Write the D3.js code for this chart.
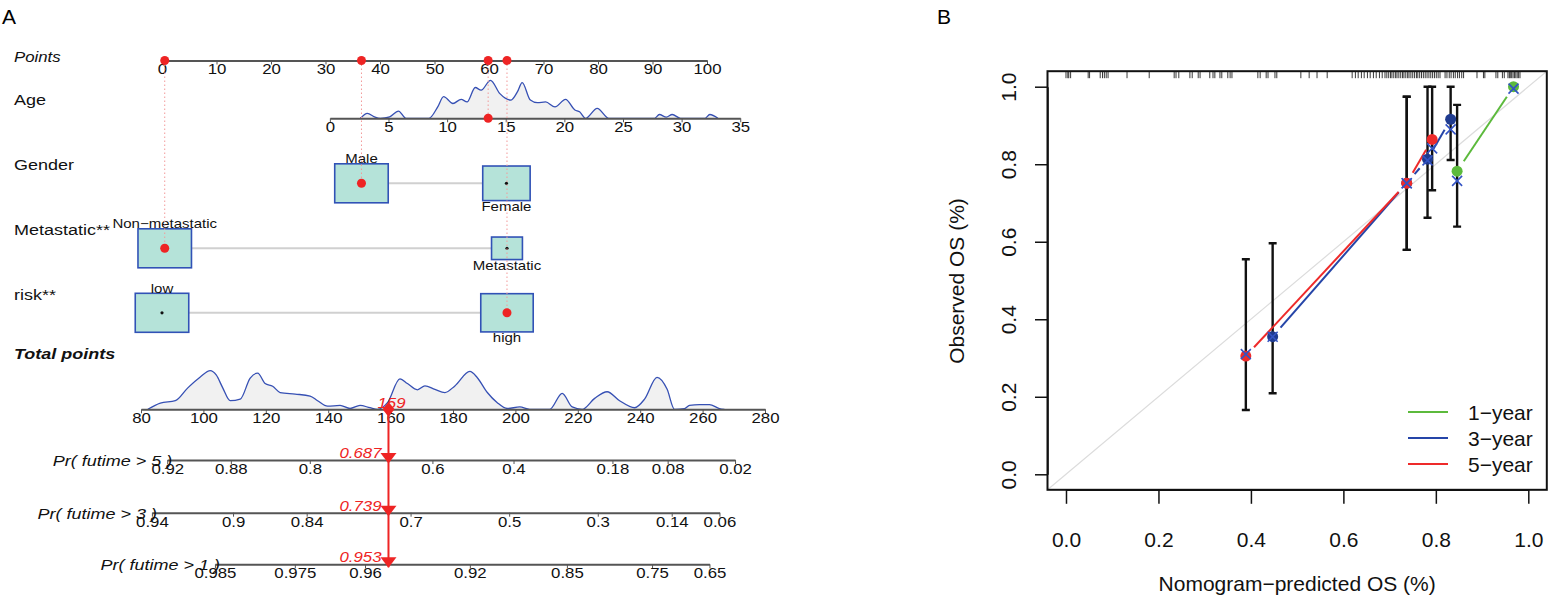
<!DOCTYPE html>
<html>
<head>
<meta charset="utf-8">
<script src="https://cdn.jsdelivr.net/npm/d3@7"></script>
<style>
  body { margin: 0; background: #fff; }
  svg { display: block; }
</style>
</head>
<body>
<div id="fig"></div>
<script>
// ---------- panel A : nomogram ----------
const pointTicks = [0, 10, 20, 30, 40, 50, 60, 70, 80, 90, 100];
const ageTicks = [0, 5, 10, 15, 20, 25, 30, 35];
const agePointRange = [30.8, 106.1];          // points for age 0 and age 35
const ageGrid = [2.6, 3.2, 3.8, 4.3, 5.1, 5.85, 6.5, 8.45, 9.2, 9.7, 10.5, 11.2, 11.7, 12.4, 12.9,
  13.7, 14.5, 15.45, 16.0, 16.4, 17.1, 17.7, 18.4, 19.2, 20.1, 20.9, 21.3, 21.8, 22.8, 23.8,
  27.7, 28.1, 28.7, 29.2, 29.9, 32.0, 32.4, 33.1];
const ageDens = [0, 0.13, 0.04, 0, 0.04, 0.19, 0, 0, 0.30, 0.57, 0.39, 0.50, 0.43, 0.81, 0.74,
  1.0, 0.65, 0.48, 0.70, 0.94, 0.48, 0.41, 0.43, 0.30, 0.50, 0.22, 0.17, 0, 0.26, 0,
  0, 0.10, 0.03, 0.10, 0, 0, 0.10, 0];

const factorLabels = ["Gender", "Metastatic**", "risk**"];
const genderLevels = ["Male", "Female"];
const genderPoints = [36.6, 63.2];
const genderShare = [0.56, 0.44];
const metastaticLevels = ["Non\u2212metastatic", "Metastatic"];
const metastaticPoints = [0.5, 63.3];
const metastaticShare = [0.75, 0.25];
const riskLevels = ["low", "high"];
const riskPoints = [0, 63.3];
const riskShare = [0.51, 0.49];

const patientAge = 13.5;
const patientLevel = ["Male", "Non\u2212metastatic", "high"];
const patientTotal = 159;

const totalTicks = [80, 100, 120, 140, 160, 180, 200, 220, 240, 260, 280];
const totalGrid = [82.2, 86.2, 91.0, 95.0, 99.0, 102.2, 104.1, 106.2, 108.6, 111.8, 115.0, 117.4,
  119.8, 122.2, 124.6, 129.4, 134.2, 136.6, 139.8, 143.8, 147.0, 150.2, 153.4, 155.8, 159.0,
  163.0, 165.4, 168.6, 171.0, 174.2, 177.4, 180.6, 185.4, 187.8, 191.0, 194.2, 197.4, 201.4,
  204.6, 211.0, 215.0, 218.2, 221.4, 225.4, 229.4, 233.4, 238.2, 241.4, 245.4, 248.6, 251.0,
  254.2, 255.8, 259.0, 262.2, 265.4, 267.0];
const totalDens = [0, 0.16, 0.22, 0.55, 0.83, 0.99, 0.88, 0.55, 0.22, 0.26, 0.80, 0.93,
  0.66, 0.59, 0.43, 0.39, 0.34, 0.22, 0.08, 0.10, 0.02, 0.10, 0.04, 0, 0.17,
  0.78, 0.66, 0.50, 0.60, 0.51, 0.43, 0.60, 0.97, 0.81, 0.43, 0.17, 0.02, 0.06,
  0, 0, 0.41, 0.06, 0, 0.28, 0.45, 0.22, 0.04, 0.26, 0.82, 0.52, 0,
  0.02, 0.10, 0.12, 0.12, 0.02, 0];

const survivalLabels = ["Pr( futime > 5 )", "Pr( futime > 3 )", "Pr( futime > 1 )"];
const surv5Labels = ["0.92", "0.88", "0.8", "0.6", "0.4", "0.18", "0.08", "0.02"];
const surv5Totals = [88.4, 108.8, 134.1, 173.4, 199.4, 231.1, 248.8, 270.4];
const surv3Labels = ["0.94", "0.9", "0.84", "0.7", "0.5", "0.3", "0.14", "0.06"];
const surv3Totals = [83.5, 109.5, 133.1, 166.4, 198.0, 226.4, 250.1, 265.4];
const surv1Labels = ["0.985", "0.975", "0.96", "0.92", "0.85", "0.75", "0.65"];
const surv1Totals = [103.7, 129.3, 151.8, 185.4, 216.5, 243.8, 262.2];
const survPredicted = ["0.687", "0.739", "0.953"];

// ---------- panel B : calibration ----------
const calYears = ["1\u2212year", "3\u2212year", "5\u2212year"];
const pred1 = [0.846, 0.968], obs1 = [0.782, 1.0], lo1 = [0.639, 1.0], hi1 = [0.953, 1.0], corr1 = [0.757, 0.995];
const pred3 = [0.447, 0.737, 0.782, 0.832], obs3 = [0.355, 0.751, 0.813, 0.916];
const lo3 = [0.209, 0.579, 0.662, 0.811], hi3 = [0.596, 0.974, 1.0, 1.0], corr3 = [0.355, 0.751, 0.810, 0.890];
const pred5 = [0.389, 0.737, 0.792], obs5 = [0.305, 0.751, 0.864];
const lo5 = [0.166, 0.579, 0.733], hi5 = [0.555, 0.974, 1.0], corr5 = [0.310, 0.751, 0.841];
const calTicks = [0, 0.2, 0.4, 0.6, 0.8, 1.0];
const rugPred = [0.000, 0.004, 0.006, 0.010, 0.048, 0.051, 0.074, 0.079, 0.083, 0.087, 0.091, 0.132,
  0.180, 0.234, 0.238, 0.244, 0.268, 0.273, 0.286, 0.290, 0.311, 0.318, 0.322, 0.333, 0.337, 0.350,
  0.355, 0.359, 0.415, 0.420, 0.433, 0.437, 0.452, 0.456, 0.508, 0.526, 0.543, 0.565, 0.619, 0.626,
  0.632, 0.639, 0.645, 0.652, 0.658, 0.665, 0.671, 0.678, 0.684, 0.690, 0.694, 0.698, 0.702, 0.705,
  0.709, 0.713, 0.716, 0.720, 0.724, 0.728, 0.731, 0.735, 0.739, 0.742, 0.746, 0.750, 0.754, 0.758,
  0.761, 0.765, 0.769, 0.773, 0.777, 0.781, 0.785, 0.789, 0.793, 0.797, 0.801, 0.805, 0.809, 0.820,
  0.824, 0.829, 0.833, 0.838, 0.842, 0.847, 0.851, 0.856, 0.860, 0.889, 0.903, 0.906, 0.930, 0.934,
  0.944, 0.948, 0.956, 0.959, 0.961, 0.964, 0.967, 0.970, 0.973, 0.976, 0.979, 0.982];

const RED = "#ee2424";

const svg = d3.select("#fig").append("svg")
  .attr("width", 1549).attr("height", 597)
  .attr("font-family", "'Liberation Sans', Arial, Helvetica, sans-serif");

svg.append("text").attr("x", 2).attr("y", 24).attr("font-size", 21).text("A");
svg.append("text").attr("x", 937).attr("y", 24).attr("font-size", 21).text("B");

// text in panel A is a bit wider than normal
const SX = 1.2;
function txt(g, x, y, s, o = {}) {
  return g.append("text")
    .attr("transform", `translate(${x},${y}) scale(${SX},1)`)
    .attr("text-anchor", o.anchor || "start")
    .attr("font-size", o.size || 15)
    .attr("font-style", o.italic ? "italic" : null)
    .attr("font-weight", o.bold ? "bold" : null)
    .attr("fill", o.color || "#111")
    .text(s);
}

const A = svg.append("g");
const xPts = d3.scaleLinear().domain([0, 100]).range([162, 707]);
const ageToPts = d3.scaleLinear().domain([0, 35]).range(agePointRange);
const xAge = d3.scaleLinear().domain([0, 35]).range(agePointRange.map(xPts));
const xTot = d3.scaleLinear().domain([80, 280]).range([141, 765]);

const rowY = { points: 60.5, age: 118.3, factors: [183.3, 248.3, 312.8], total: 409.3, surv: [460, 512.7, 564.3] };

function nomoAxis(scale, y, values, labels) {
  const ax = d3.axisBottom(scale).tickValues(values).tickSize(4).tickSizeOuter(0).tickPadding(0)
    .tickFormat((d, i) => labels ? labels[i] : d);
  const g = A.append("g").attr("transform", `translate(0,${y})`).call(ax)
    .attr("font-size", 14).attr("font-family", null);
  g.select(".domain").attr("stroke", "#555").attr("stroke-width", 2);
  g.selectAll(".tick line").attr("stroke", "#555");
  g.selectAll(".tick text").attr("fill", "#111").attr("transform", `scale(${SX},1)`);
  return g;
}

// row labels
txt(A, 14, 62, "Points", { italic: true, size: 14 });
txt(A, 14, 105, "Age");
factorLabels.forEach((f, k) => txt(A, 14, rowY.factors[k] - 13, f));
txt(A, 14, 358.5, "Total points", { italic: true, bold: true });

// axes
nomoAxis(xPts, rowY.points, pointTicks);

const dens = (grid, vals, xs, base, hgt) => d3.area()
  .x((d, i) => xs(grid[i])).y0(base).y1((d, i) => base - vals[i] * hgt)
  .curve(d3.curveMonotoneX)(vals);
const densLine = (grid, vals, xs, base, hgt) => d3.line()
  .x((d, i) => xs(grid[i])).y((d, i) => base - vals[i] * hgt)
  .curve(d3.curveMonotoneX)(vals);

A.append("path").attr("d", dens(ageGrid, ageDens, xAge, rowY.age, 38)).attr("fill", "#f1f1f1");
A.append("path").attr("d", densLine(ageGrid, ageDens, xAge, rowY.age, 38))
  .attr("fill", "none").attr("stroke", "#3650b4").attr("stroke-width", 1.3);
nomoAxis(xAge, rowY.age, ageTicks);

// factor rows with boxes
const factors = [
  { levels: genderLevels, pts: genderPoints, share: genderShare },
  { levels: metastaticLevels, pts: metastaticPoints, share: metastaticShare },
  { levels: riskLevels, pts: riskPoints, share: riskShare }
];
const selected = [{ pts: ageToPts(patientAge), y: rowY.age }];
factors.forEach((f, k) => {
  const y = rowY.factors[k];
  const side = d3.scaleSqrt().domain([0, d3.max(f.share)]).range([0, 1]);
  const cx = f.pts.map(xPts);
  A.append("line").attr("x1", cx[0]).attr("x2", cx[1]).attr("y1", y).attr("y2", y)
    .attr("stroke", "#d0d0d0").attr("stroke-width", 2);
  f.levels.forEach((lv, i) => {
    const s = side(f.share[i]), w = 53.5 * s, h = 39 * s;
    A.append("rect").attr("x", cx[i] - w / 2).attr("y", y - h / 2).attr("width", w).attr("height", h)
      .attr("fill", "#b5e3d9").attr("stroke", "#3152b6").attr("stroke-width", 1.6);
    const ly = i === 0 ? y - h / 2 - 0.5 : y + h / 2 + 10.5;
    txt(A, cx[i], ly, lv, { anchor: "middle", size: 12.5 });
    if (patientLevel.includes(lv)) selected.push({ pts: f.pts[i], y });
    else A.append("circle").attr("cx", cx[i]).attr("cy", y).attr("r", 1.6).attr("fill", "#111");
  });
});

// total points
A.append("path").attr("d", dens(totalGrid, totalDens, xTot, rowY.total, 39)).attr("fill", "#f1f1f1");
A.append("path").attr("d", densLine(totalGrid, totalDens, xTot, rowY.total, 39))
  .attr("fill", "none").attr("stroke", "#3650b4").attr("stroke-width", 1.3);
nomoAxis(xTot, rowY.total, totalTicks);

// survival probability rows
[[surv5Labels, surv5Totals], [surv3Labels, surv3Totals], [surv1Labels, surv1Totals]].forEach(([lab, tot], k) => {
  const y = rowY.surv[k];
  const sc = d3.scaleLinear().domain([tot[0], tot[tot.length - 1]])
    .range([xTot(tot[0]), xTot(tot[tot.length - 1])]);
  nomoAxis(sc, y, tot, lab);
  txt(A, xTot(tot[0]) + 5, y + 6, survivalLabels[k], { anchor: "end", italic: true });
});

// red dotted guides and patient points
selected.forEach(s => {
  A.append("line").attr("x1", xPts(s.pts)).attr("x2", xPts(s.pts))
    .attr("y1", rowY.points).attr("y2", s.y)
    .attr("stroke", "#f29a9a").attr("stroke-width", 1).attr("stroke-dasharray", "1.5,2.5");
});
selected.forEach(s => {
  A.append("circle").attr("cx", xPts(s.pts)).attr("cy", rowY.points).attr("r", 4.5).attr("fill", RED);
  A.append("circle").attr("cx", xPts(s.pts)).attr("cy", s.y).attr("r", 4.5).attr("fill", RED);
});

// arrow from total to the probabilities
const xp = xTot(patientTotal) + 1;
A.append("line").attr("x1", xp).attr("x2", xp).attr("y1", rowY.total).attr("y2", rowY.surv[2] + 3)
  .attr("stroke", RED).attr("stroke-width", 2);
A.append("path").attr("d", `M${xp},${rowY.total - 7.5}L${xp + 6},${rowY.total}L${xp},${rowY.total + 7.5}L${xp - 6},${rowY.total}Z`)
  .attr("fill", RED);
txt(A, xp + 3, 408, String(patientTotal), { anchor: "middle", italic: true, size: 14, color: RED });
rowY.surv.forEach((y, k) => {
  A.append("path").attr("d", `M${xp - 8},${y - 7}L${xp + 8},${y - 7}L${xp},${y + 3.5}Z`).attr("fill", RED);
  txt(A, xp - 7, y - 2, survPredicted[k], { anchor: "end", italic: true, size: 14, color: RED });
});

// ---------- panel B ----------
const B = svg.append("g");
const xB = d3.scaleLinear().domain([-0.04, 1.04]).range([1047.5, 1546.8]);
const yB = d3.scaleLinear().domain([-0.04, 1.04]).range([489.8, 71.2]);

// rug of predicted values
B.selectAll(".rug").data(rugPred).enter().append("line")
  .attr("x1", d => xB(d)).attr("x2", d => xB(d))
  .attr("y1", yB(1.04)).attr("y2", yB(1.04) + 7)
  .attr("stroke", "#222").attr("stroke-width", 0.9);

// ideal line
B.append("line").attr("x1", xB(-0.04)).attr("y1", yB(-0.04)).attr("x2", xB(1.04)).attr("y2", yB(1.04))
  .attr("stroke", "#dcdcdc").attr("stroke-width", 1.2);

const series = [
  { name: calYears[0], line: "#5cba3c", dot: "#5cba3c", pred: pred1, obs: obs1, lo: lo1, hi: hi1, corr: corr1 },
  { name: calYears[1], line: "#2545a8", dot: "#1f3b8f", pred: pred3, obs: obs3, lo: lo3, hi: hi3, corr: corr3 },
  { name: calYears[2], line: "#ee2a2a", dot: "#ee2a2a", pred: pred5, obs: obs5, lo: lo5, hi: hi5, corr: corr5 }
];

// error bars
series.forEach(s => {
  s.pred.forEach((p, i) => {
    const x = xB(p);
    B.append("path")
      .attr("d", `M${x},${yB(s.lo[i])}V${yB(s.hi[i])}M${x - 4},${yB(s.hi[i])}H${x + 4}M${x - 4},${yB(s.lo[i])}H${x + 4}`)
      .attr("stroke", "#111").attr("stroke-width", 2.4).attr("fill", "none");
  });
});

// connecting lines with gaps around points (type = "b")
const GAP = 12;
series.forEach(s => {
  for (let i = 0; i < s.pred.length - 1; i++) {
    const x1 = xB(s.pred[i]), y1 = yB(s.obs[i]), x2 = xB(s.pred[i + 1]), y2 = yB(s.obs[i + 1]);
    const len = Math.hypot(x2 - x1, y2 - y1);
    if (len <= 2 * GAP) continue;
    const ux = (x2 - x1) / len, uy = (y2 - y1) / len;
    B.append("line")
      .attr("x1", x1 + ux * GAP).attr("y1", y1 + uy * GAP)
      .attr("x2", x2 - ux * GAP).attr("y2", y2 - uy * GAP)
      .attr("stroke", s.line).attr("stroke-width", 2);
  }
});

// observed points
series.forEach(s => {
  s.pred.forEach((p, i) => {
    B.append("circle").attr("cx", xB(p)).attr("cy", yB(s.obs[i])).attr("r", 5.5).attr("fill", s.dot);
  });
});
// bias-corrected estimates
series.forEach(s => {
  s.pred.forEach((p, i) => {
    const x = xB(p), y = yB(s.corr[i]);
    B.append("path").attr("d", `M${x - 5},${y - 5}L${x + 5},${y + 5}M${x - 5},${y + 5}L${x + 5},${y - 5}`)
      .attr("stroke", "#3353c4").attr("stroke-width", 1.6);
  });
});

// frame
B.append("rect").attr("x", xB(-0.04)).attr("y", yB(1.04))
  .attr("width", xB(1.04) - xB(-0.04)).attr("height", yB(-0.04) - yB(1.04))
  .attr("fill", "none").attr("stroke", "#111").attr("stroke-width", 2);

// x axis
const xAx = B.append("g").attr("transform", `translate(0,${yB(-0.04)})`)
  .call(d3.axisBottom(d3.scaleLinear().domain([0, 1]).range([xB(0), xB(1)]))
    .tickValues(calTicks).tickSize(14).tickSizeOuter(0).tickPadding(28).tickFormat(d3.format(".1f")))
  .attr("font-size", 21).attr("font-family", null);
xAx.select(".domain").attr("stroke", "#111").attr("stroke-width", 1.5);
xAx.selectAll(".tick line").attr("stroke", "#111").attr("stroke-width", 1.5);
xAx.selectAll(".tick text").attr("fill", "#111");

// y axis
const yAx = B.append("g").attr("transform", `translate(${xB(-0.04)},0)`)
  .call(d3.axisLeft(d3.scaleLinear().domain([0, 1]).range([yB(0), yB(1)]))
    .tickValues(calTicks).tickSize(12.5).tickSizeOuter(0).tickFormat(d3.format(".1f")))
  .attr("font-size", 21).attr("font-family", null);
yAx.select(".domain").attr("stroke", "#111").attr("stroke-width", 1.5);
yAx.selectAll(".tick line").attr("stroke", "#111").attr("stroke-width", 1.5);
yAx.selectAll(".tick text").attr("fill", "#111")
  .attr("transform", "rotate(-90)").attr("x", 0).attr("y", -31.5).attr("dy", 0)
  .attr("text-anchor", "middle");

B.append("text").attr("x", (xB(-0.04) + xB(1.04)) / 2).attr("y", 591)
  .attr("text-anchor", "middle").attr("font-size", 21).attr("fill", "#111")
  .text("Nomogram\u2212predicted OS (%)");
B.append("text").attr("transform", `translate(964,281) rotate(-90)`)
  .attr("text-anchor", "middle").attr("font-size", 21).attr("fill", "#111")
  .text("Observed OS (%)");

// legend
series.forEach((s, i) => {
  const y = 412 + i * 26;
  B.append("line").attr("x1", 1408).attr("x2", 1448).attr("y1", y).attr("y2", y)
    .attr("stroke", s.line).attr("stroke-width", 2);
  B.append("text").attr("x", 1468).attr("y", y + 7.5).attr("font-size", 21).attr("fill", "#111").text(s.name);
});
</script>
</body>
</html>
